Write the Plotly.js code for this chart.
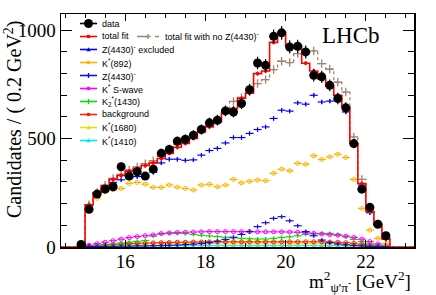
<!DOCTYPE html>
<html>
<head>
<meta charset="utf-8">
<script src="https://cdn.plot.ly/plotly-3.0.1.min.js"></script>
<style>html,body{margin:0;padding:0;background:#fff;}#chart{width:436px;height:295px;}</style>
</head>
<body>
<div id="chart"></div>
<script>
// ---- data ----
const dataCenters = [14.9,15.1,15.3,15.5,15.7,15.9,16.1,16.3,16.5,16.7,16.9,17.1,17.3,17.5,17.7,17.9,18.1,18.3,18.5,18.7,18.9,19.1,19.3,19.5,19.7,19.9,20.1,20.3,20.5,20.7,20.9,21.1,21.3,21.5,21.7,21.9,22.1,22.3,22.5];
const dataValues  = [12,174,244,267,278,370,327,347,327,359,432,450,488,497,516,542,573,585,628,623,662,726,849,838,972,988,923,926,900,792,785,746,685,642,477,267,183,105,52];

const fitCenters = [15.1,15.3,15.5,15.7,15.9,16.1,16.3,16.5,16.7,16.9,17.1,17.3,17.5,17.7,17.9,18.1,18.3,18.5,18.7,18.9,19.1,19.3,19.5,19.7,19.9,20.1,20.3,20.5,20.7,20.9,21.1,21.3,21.5,21.7,21.9,22.1,22.3,22.5];
const totalFit   = [195,250,282,312,330,350,362,376,388,408,432,460,478,501,531,554,577,616,639,686,710,800,812,944,990,929,929,848,812,775,742,700,646,478,293,165,101,37];
const fitNoZ     = [195,252,285,316,335,356,369,384,398,420,445,475,492,515,545,570,592,630,672,690,725,754,772,818,857,851,892,896,905,846,820,760,715,508,312,175,108,40];
const zExcluded  = [190,245,275,298,310,318,325,332,345,388,405,405,400,402,424,445,455,480,505,505,524,542,554,593,631,627,665,659,700,669,673,677,623,470,286,158,98,35];
const kst892     = [170,225,255,265,270,293,298,290,275,275,286,276,270,263,286,289,278,286,312,296,303,309,306,340,359,352,386,382,421,404,416,428,413,312,178,78,40,15];
const z4430      = [2,2,3,3,4,4,5,5,6,7,8,9,11,13,16,20,27,35,45,58,71,94,112,132,140,121,98,71,52,32,20,14,10,7,5,3,2,1];
const kstSwave   = [8,15,22,29,36,43,48,52,56,62,65,67,68,69,70,71,71,71,71,71,71,70,70,70,70,69,68,66,63,60,57,54,50,44,36,25,14,5];
const k2st1430   = [3,6,10,14,18,22,26,30,50,60,63,63,62,58,54,51,48,45,42,40,38,37,37,40,44,47,52,58,62,63,63,58,47,35,25,15,8,3];
const background = [5,8,10,12,14,16,17,18,19,20,21,22,22,23,23,24,24,24,24,24,24,24,24,24,24,24,24,24,24,24,23,22,20,17,13,9,6,3];
const kst1680    = [3,5,7,9,10,12,13,14,15,16,17,17,18,18,18,18,18,18,18,18,18,18,18,18,18,17,17,17,16,16,15,14,12,10,8,6,4,2];
const kst1410    = [1,2,3,3,4,4,5,5,5,6,6,6,6,7,7,7,7,7,7,7,7,7,7,7,7,7,7,7,7,6,6,6,5,5,4,3,2,1];

const xTicks = [16,18,20,22];
const yTicks = [0,500,1000];
const legendLabels = ['data','total fit','Z(4430)<sup>-</sup> excluded','K<sup>*</sup>(892)','Z(4430)<sup>-</sup>','K<sup>*</sup> S-wave','K<sub>2</sub><sup>*</sup>(1430)','background','K<sup>*</sup>(1680)','K<sup>*</sup>(1410)'];
const noZLabel = 'total fit with no Z(4430)<sup>-</sup>';

// ---- styling ----
const xRange = [14.4, 23.2], yRange = [0, 1075];
const halfBin = 0.1;
const C = {data:'#000000', fit:'#ff0000', noZ:'#a08270', zex:'#0000ff', k892:'#ffb400', z:'#1010e0',
           sw:'#ff00ff', k2:'#00dd00', bg:'#ff2000', k1680:'#e8e000', k1410:'#00e8ff'};

function stepPath(centers, vals){
  const xs=[xRange[0]], ys=[0];
  xs.push(centers[0]-halfBin); ys.push(0);
  centers.forEach((c,i)=>{ xs.push(c-halfBin, c+halfBin); ys.push(vals[i], vals[i]); });
  xs.push(centers[centers.length-1]+halfBin, xRange[1]); ys.push(0,0);
  return {xs, ys};
}

function comp(vals, color, symbol, yerr){
  return {x: fitCenters, y: vals, type:'scatter', mode:'markers', hoverinfo:'skip',
    marker:{symbol: symbol, size: symbol==='circle-open'?4:3, color: color, line:{color:color, width:1}},
    error_x:{type:'constant', value:halfBin, width:0, thickness:1.2, color:color},
    error_y:{type:'constant', value:yerr, width:0, thickness:1.2, color:color, visible: yerr>0}};
}

const traces = [];
traces.push(comp(kst1410, C.k1410, 'triangle-up', 0));
traces.push(comp(kst1680, C.k1680, 'circle-open', 0));
traces.push(comp(background, C.bg, 'circle-open', 0));
traces.push(comp(k2st1430, C.k2, 'line-ns', 5));
traces.push(comp(kstSwave, C.sw, 'circle-open', 0));
traces.push(comp(z4430, C.z, 'line-ns', 8));
traces.push(comp(kst892, C.k892, 'circle-open', 0));
traces.push(comp(zExcluded, C.zex, 'line-ns', 10));

const pNoZ = stepPath(fitCenters, fitNoZ);
traces.push({x:pNoZ.xs, y:pNoZ.ys, type:'scatter', mode:'lines', hoverinfo:'skip',
  line:{color:C.noZ, width:1.3, dash:'dot'}});
traces.push({x:fitCenters, y:fitNoZ, type:'scatter', mode:'markers', hoverinfo:'skip',
  marker:{symbol:'cross-thin', size:6, color:C.noZ, line:{color:C.noZ, width:1.3}}});

const pFit = stepPath(fitCenters, totalFit);
traces.push({x:pFit.xs, y:pFit.ys, type:'scatter', mode:'lines', hoverinfo:'skip',
  line:{color:C.fit, width:1.6}});
traces.push({x:fitCenters, y:totalFit, type:'scatter', mode:'markers', hoverinfo:'skip',
  marker:{symbol:'square', size:3, color:C.fit},
  error_y:{type:'constant', value:10, width:0, thickness:1.2, color:C.fit}});

traces.push({x:dataCenters, y:dataValues, type:'scatter', mode:'markers', hoverinfo:'skip',
  marker:{symbol:'circle', size:9, color:C.data},
  error_y:{type:'data', array:dataValues.map(v=>Math.sqrt(v)), width:0, thickness:1.2, color:C.data}});

// ---- legend (drawn as annotations + shapes in paper space) ----
const L=61, T=14, W=353, H=233;
const px = v => (v-L)/W, py = v => (T+H-v)/H;
const legColors = [C.data, C.fit, C.zex, C.k892, C.z, C.sw, C.k2, C.bg, C.k1680, C.k1410];
const legMarker = ['dot','sq','tri','sq','plus','sq','plus','sq','tri','tri'];
const shapes = [], annotations = [];
const lx0=80, lx1=97, lmx=88.5, ltx=100, ly0=23.5, ldy=13;
legendLabels.forEach((lab,i)=>{
  const y = ly0 + i*ldy, col = legColors[i];
  shapes.push({type:'line', xref:'paper', yref:'paper', x0:px(lx0), x1:px(lx1), y0:py(y), y1:py(y), line:{color:col, width:1.6}});
  const m = legMarker[i];
  if(m==='dot') shapes.push({type:'circle', xref:'paper', yref:'paper', x0:px(lmx-4.5), x1:px(lmx+4.5), y0:py(y+4.5), y1:py(y-4.5), fillcolor:col, line:{width:0}});
  else if(m==='sq') shapes.push({type:'rect', xref:'paper', yref:'paper', x0:px(lmx-1.6), x1:px(lmx+1.6), y0:py(y+1.6), y1:py(y-1.6), fillcolor:col, line:{width:0}});
  else if(m==='tri') shapes.push({type:'path', xref:'paper', yref:'paper', path:`M ${px(lmx-2.2)} ${py(y+1.8)} L ${px(lmx+2.2)} ${py(y+1.8)} L ${px(lmx)} ${py(y-2.2)} Z`, fillcolor:col, line:{width:0}});
  else shapes.push({type:'line', xref:'paper', yref:'paper', x0:px(lmx), x1:px(lmx), y0:py(y-2.5), y1:py(y+2.5), line:{color:col, width:1.4}});
  annotations.push({xref:'paper', yref:'paper', x:px(ltx), y:py(y), xanchor:'left', yanchor:'middle', showarrow:false,
    text:lab, font:{family:'Liberation Sans, Arial, sans-serif', size:9, color:'#000'}});
});
// second column entry
const ny = ly0 + ldy;
shapes.push({type:'line', xref:'paper', yref:'paper', x0:px(137), x1:px(159), y0:py(ny), y1:py(ny), line:{color:C.noZ, width:1.3, dash:'dash'}});
shapes.push({type:'line', xref:'paper', yref:'paper', x0:px(148), x1:px(148), y0:py(ny-2.5), y1:py(ny+2.5), line:{color:C.noZ, width:1.3}});
shapes.push({type:'line', xref:'paper', yref:'paper', x0:px(145.5), x1:px(150.5), y0:py(ny), y1:py(ny), line:{color:C.noZ, width:1.6}});
annotations.push({xref:'paper', yref:'paper', x:px(163), y:py(ny), xanchor:'left', yanchor:'middle', showarrow:false,
  text:noZLabel, font:{family:'Liberation Sans, Arial, sans-serif', size:9, color:'#000'}});

// LHCb label and axis titles
const serif = 'Liberation Serif, Times New Roman, serif';
annotations.push({xref:'paper', yref:'paper', x:px(351), y:py(35), xanchor:'center', yanchor:'middle', showarrow:false,
  text:'LHCb', font:{family:serif, size:23, color:'#000'}});
annotations.push({xref:'paper', yref:'paper', x:px(13), y:py(119), xanchor:'center', yanchor:'middle', showarrow:false, textangle:-90,
  text:'Candidates / ( 0.2 GeV<sup>2</sup>)', font:{family:serif, size:20, color:'#000'}});
annotations.push({xref:'paper', yref:'paper', x:px(413), y:py(281), xanchor:'right', yanchor:'middle', showarrow:false,
  text:"m<sup>2</sup><sub>ψ'π<sup>-</sup></sub> [GeV<sup>2</sup>]", font:{family:serif, size:19, color:'#000'}});

const layout = {
  width:436, height:295, margin:{l:L, r:436-L-W, t:T, b:295-T-H},
  paper_bgcolor:'#fff', plot_bgcolor:'#fff', showlegend:false,
  font:{family:serif, size:19, color:'#000'},
  xaxis:{range:xRange, tickvals:xTicks, ticks:'inside', ticklen:7, tickwidth:1.2, tickcolor:'#000',
    mirror:'allticks', showline:true, linecolor:'#000', linewidth:1.5, showgrid:false, zeroline:false,
    ticklabelstandoff:-3,
    minor:{dtick:0.5, tick0:0, ticks:'inside', ticklen:4, tickwidth:1, tickcolor:'#000'},
    tickfont:{family:serif, size:19}},
  yaxis:{range:yRange, tickvals:yTicks, ticks:'inside', ticklen:11, tickwidth:1.2, tickcolor:'#000',
    mirror:'allticks', showline:true, linecolor:'#000', linewidth:1.5, showgrid:false, zeroline:false,
    minor:{dtick:100, tick0:0, ticks:'inside', ticklen:6, tickwidth:1, tickcolor:'#000'},
    tickfont:{family:serif, size:19}},
  shapes: shapes, annotations: annotations
};

Plotly.newPlot('chart', traces, layout, {staticPlot:true, displayModeBar:false});
</script>
</body>
</html>
